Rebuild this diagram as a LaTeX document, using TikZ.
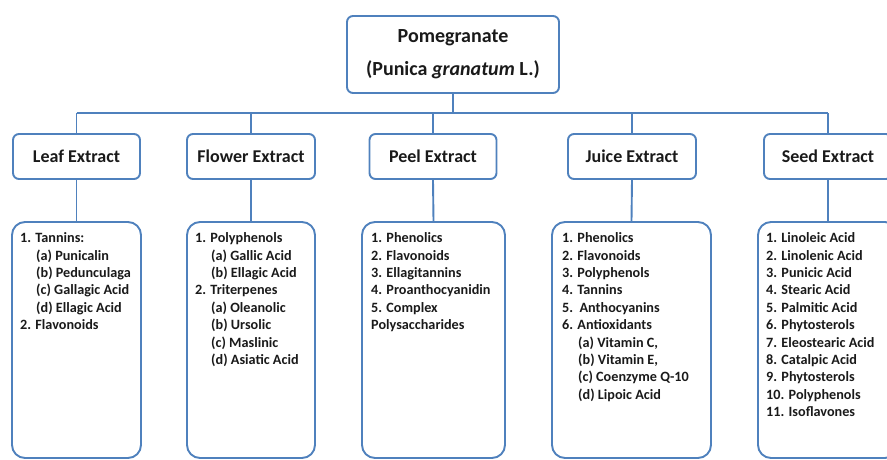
\documentclass[tikz,border=0pt]{standalone}
\usepackage{fontspec}
\setmainfont{Carlito}
\definecolor{lineblue}{HTML}{4F81BD}
\definecolor{txt}{HTML}{1A1A1A}
\tikzset{
  x=1pt, y=-1pt,
  conn/.style={draw=lineblue, line width=1.9pt},
  topbox/.style={draw=lineblue, line width=1.9pt, rounded corners=6pt, fill=white,
    minimum width=212pt, minimum height=77pt, inner sep=0pt, align=center,
    font=\fontsize{20}{33}\selectfont\bfseries, text=txt},
  extbox/.style={draw=lineblue, line width=1.9pt, rounded corners=6pt, fill=white,
    minimum height=45pt, inner sep=0pt, font=\fontsize{18}{20}\selectfont\bfseries, text=txt},
  listbox/.style={draw=lineblue, line width=1.9pt, rounded corners=13pt, fill=white,
    minimum height=236pt, inner sep=0pt},
  listtext/.style={anchor=north west, inner sep=0pt, align=left, text=txt,
    font=\fontsize{14.2}{17.4}\selectfont\bfseries},
}
\newcommand{\fl}{\rule{0pt}{10pt}}
\newcommand{\ind}{\hspace*{16pt}}
\begin{document}
\begin{tikzpicture}
\useasboundingbox (0,0) rectangle (887,459);
% top
\node[topbox] (top) at (453,54.5) {Pomegranate\\(Punica \textit{granatum} L.)};
% extract boxes
\node[extbox, minimum width=127pt] (leaf) at (76.5,156.5) {Leaf Extract};
\node[extbox, minimum width=128pt] (flower) at (251,156.5) {Flower Extract};
\node[extbox, minimum width=127pt] (peel) at (433,156.5) {Peel Extract};
\node[extbox, minimum width=128pt] (juice) at (632,156.5) {Juice Extract};
\node[extbox, minimum width=128pt] (seed) at (828,156.5) {Seed Extract};
% list boxes
\node[listbox, minimum width=129pt] (leafl) at (76.5,340) {};
\node[listbox, minimum width=128pt] (flowerl) at (251,340) {};
\node[listbox, minimum width=143pt] (peell) at (433.5,340) {};
\node[listbox, minimum width=159pt] (juicel) at (631.5,340) {};
\node[listbox, minimum width=140pt] (seedl) at (828,340) {};
% connectors
\coordinate (bus) at (453,113);
\draw[conn] (top.south) -- (bus);
\draw[conn] (leaf.north |- bus) -- (seed.north |- bus);
\foreach \n in {leaf,flower,peel,juice,seed}{
  \draw[conn] (\n.north |- bus) -- (\n.north);
  \draw[conn] (\n.south) -- (\n l.north);
}
% list texts
\node[listtext] (leaft) at (20,232.5) {\fl 1. Tannins:\\ \ind(a) Punicalin\\ \ind(b) Pedunculaga\\ \ind(c) Gallagic Acid\\ \ind(d) Ellagic Acid\\ 2. Flavonoids};
\node[listtext] (flowert) at (195,232.5) {\fl 1. Polyphenols\\ \ind(a) Gallic Acid\\ \ind(b) Ellagic Acid\\ 2. Triterpenes\\ \ind(a) Oleanolic\\ \ind(b) Ursolic\\ \ind(c) Maslinic\\ \ind(d) Asiatic Acid};
\node[listtext] (peelt) at (371,232.5) {\fl 1. Phenolics\\ 2. Flavonoids\\ 3. Ellagitannins\\ 4. Proanthocyanidin\\ 5. Complex\\ Polysaccharides};
\node[listtext] (juicet) at (562,232.5) {\fl 1. Phenolics\\ 2. Flavonoids\\ 3. Polyphenols\\ 4. Tannins\\ 5.\ \ Anthocyanins\\ 6. Antioxidants\\ \ind(a) Vitamin C,\\ \ind(b) Vitamin E,\\ \ind(c) Coenzyme Q-10\\ \ind(d) Lipoic Acid};
\node[listtext] (seedt) at (766,232.5) {\fl 1. Linoleic Acid\\ 2. Linolenic Acid\\ 3. Punicic Acid\\ 4. Stearic Acid\\ 5. Palmitic Acid\\ 6. Phytosterols\\ 7. Eleostearic Acid\\ 8. Catalpic Acid\\ 9. Phytosterols\\ 10. Polyphenols\\ 11. Isoflavones};
\end{tikzpicture}
\end{document}
